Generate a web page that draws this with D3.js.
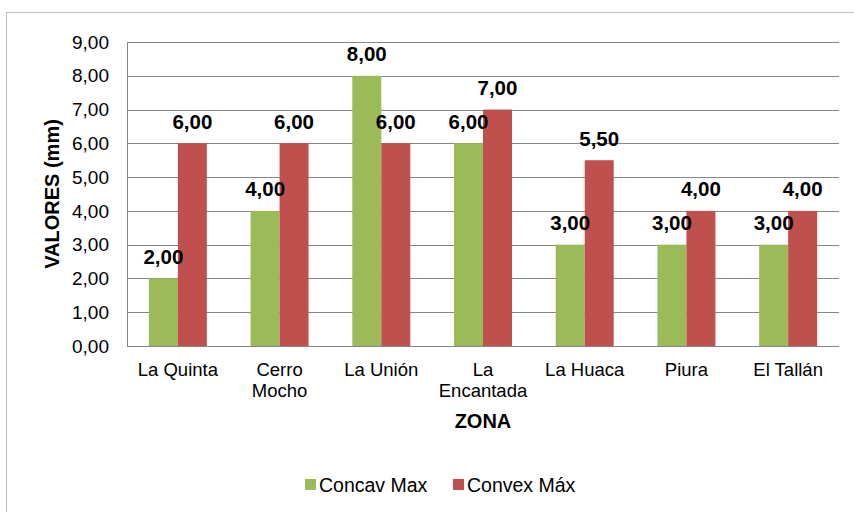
<!DOCTYPE html>
<html><head><meta charset="utf-8">
<script src="https://cdn.jsdelivr.net/npm/d3@7"></script>
<style>body{margin:0;background:#fff}svg{display:block;font-family:"Liberation Sans",Arial,sans-serif}</style>
</head><body>
<script>
const categories = [["La Quinta"],["Cerro","Mocho"],["La Unión"],["La","Encantada"],["La Huaca"],["Piura"],["El Tallán"]];
const seriesNames = ["Concav Max","Convex Máx"];
const concavMax = [2,4,8,6,3,3,3];
const convexMax = [6,6,6,7,5.5,4,4];
const yTicks = [0,1,2,3,4,5,6,7,8,9];
const colors = ["#9BBB59","#C0504D"];

const W=854,H=512;
const svg=d3.select("body").append("svg").attr("width",W).attr("height",H);
svg.append("rect").attr("x",6.5).attr("y",12.5).attr("width",870).attr("height",520)
  .attr("fill","#fff").attr("stroke","#bfbfbf").attr("stroke-width",1);

const L=127,R=839,T=42,B=346;
const catKeys = categories.map(c=>c.join(" "));
const x0=d3.scaleBand().domain(catKeys).range([L,R]).paddingInner(0.43).paddingOuter(0.215);
const x1=d3.scaleBand().domain(seriesNames).range([0,x0.bandwidth()]);
const y=d3.scaleLinear().domain([0,9]).range([B,T]);
const fmt=v=>d3.format(".2f")(v).replace(".",",");

// gridlines
svg.append("g").selectAll("line").data(yTicks).join("line")
  .attr("x1",L).attr("x2",R).attr("y1",d=>Math.round(y(d))+0.5).attr("y2",d=>Math.round(y(d))+0.5)
  .attr("stroke","#868686").attr("stroke-width",1);
// left axis line
svg.append("line").attr("x1",L+0.5).attr("x2",L+0.5).attr("y1",T).attr("y2",B+0.5).attr("stroke","#868686");

// y tick labels
svg.append("g").selectAll("text").data(yTicks).join("text")
  .attr("x",109).attr("y",d=>y(d)).attr("dy","0.35em").attr("text-anchor","end")
  .attr("font-size",19).attr("fill","#000").text(fmt);

// bars
const data = catKeys.map((k,i)=>({k,vals:[concavMax[i],convexMax[i]]}));
const g=svg.append("g").selectAll("g").data(data).join("g").attr("transform",d=>`translate(${x0(d.k)},0)`);
g.selectAll("rect").data(d=>d.vals.map((v,j)=>({v,s:seriesNames[j],j}))).join("rect")
  .attr("x",d=>x1(d.s)).attr("width",x1.bandwidth()).attr("y",d=>y(d.v)).attr("height",d=>B-y(d.v))
  .attr("fill",d=>colors[d.j]);
g.selectAll("text").data(d=>d.vals.map((v,j)=>({v,s:seriesNames[j],j}))).join("text")
  .attr("x",d=>x1(d.s)+x1.bandwidth()/2).attr("y",d=>y(d.v)-14.5).attr("text-anchor","middle")
  .attr("font-size",20.5).attr("font-weight","bold").attr("fill","#000").text(d=>fmt(d.v));

// category labels
const cl=svg.append("g").selectAll("text").data(categories).join("text")
  .attr("text-anchor","middle").attr("font-size",18.5).attr("fill","#000");
cl.each(function(c,i){
  const t=d3.select(this);
  c.forEach((line,li)=>t.append("tspan").attr("x",x0(catKeys[i])+x0.bandwidth()/2).attr("y",376+li*21).text(line));
});

// axis titles
svg.append("text").attr("x",(L+R)/2).attr("y",428).attr("text-anchor","middle")
  .attr("font-size",20).attr("font-weight","bold").text("ZONA");
svg.append("text").attr("transform",`translate(59,${(T+B)/2}) rotate(-90)`).attr("text-anchor","middle")
  .attr("font-size",20).attr("font-weight","bold").text("VALORES (mm)");

// legend
const lx=[305,453];
const lg=svg.append("g").selectAll("g").data(seriesNames).join("g").attr("transform",(d,i)=>`translate(${lx[i]},0)`);
lg.append("rect").attr("x",0).attr("y",479).attr("width",11).attr("height",11).attr("fill",(d,i)=>colors[i]);
lg.append("text").attr("x",14).attr("y",491.5).attr("font-size",19.5).attr("fill","#000").text(d=>d);
</script>
</body></html>
